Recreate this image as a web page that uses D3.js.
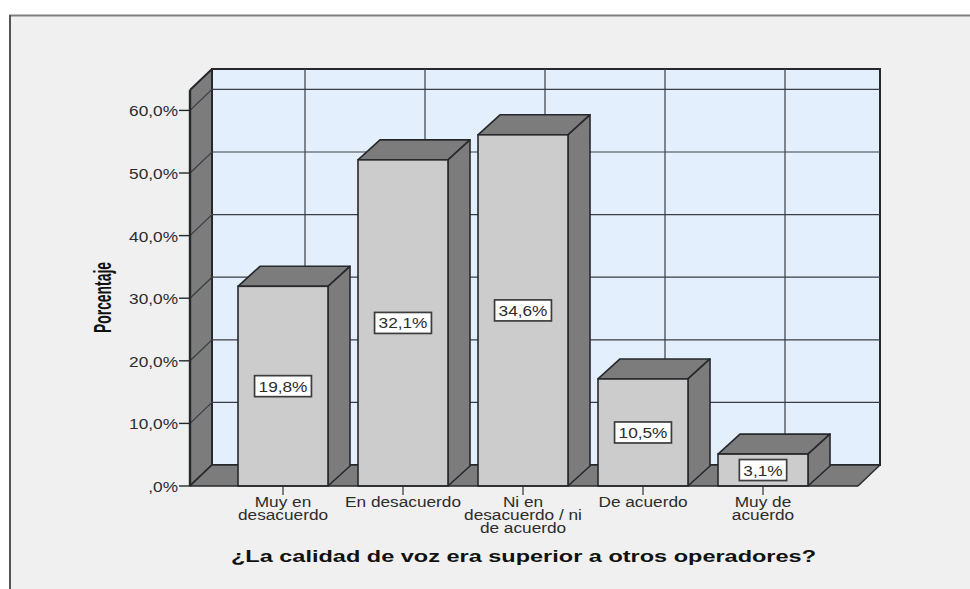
<!DOCTYPE html>
<html>
<head>
<meta charset="utf-8">
<script src="https://cdn.jsdelivr.net/npm/d3@7/dist/d3.min.js"></script>
<style>
html,body{margin:0;padding:0;background:#fff}
svg{display:block}
text{font-family:"Liberation Sans",Arial,sans-serif;fill:#2c2c2c}
</style>
</head>
<body>
<svg id="chart" width="970" height="589"></svg>
<script>
const categories = [["Muy en","desacuerdo"],["En desacuerdo"],["Ni en","desacuerdo / ni","de acuerdo"],["De acuerdo"],["Muy de","acuerdo"]];
const barHeights = [31.9, 52.1, 56.1, 17.1, 5.1];
const barLabels = ["19,8%","32,1%","34,6%","10,5%","3,1%"];
const yTicks = [0,10,20,30,40,50,60];
const yTickLabels = [",0%","10,0%","20,0%","30,0%","40,0%","50,0%","60,0%"];
const yAxisTitle = "Porcentaje";
const xAxisTitle = "¿La calidad de voz era superior a otros operadores?";

const svg = d3.select("#chart");
const C = {panel:"#f0f0f0",wall:"#e3effc",front:"#cccccc",side:"#7c7c7c",line:"#26282b",grid:"#3a3e44"};
const stretch = 1.25;
const floorDx = 22, floorDy = 21, barDx = 22, barDy = 20, barW = 90;
const y = d3.scaleLinear().domain([0,63.26]).range([486,90]);
const x = d3.scalePoint().domain(d3.range(categories.length)).range([283,763]);
const left = 190, right = 858;
const path = d3.line();

// panel
svg.append("rect").attr("x",9).attr("y",15).attr("width",961).attr("height",574).attr("fill",C.panel);
svg.append("line").attr("x1",9).attr("x2",970).attr("y1",15.5).attr("y2",15.5).attr("stroke","#7f7f7f").attr("stroke-width",2);
svg.append("line").attr("x1",10).attr("x2",10).attr("y1",15).attr("y2",589).attr("stroke","#555").attr("stroke-width",2);

// back wall
const top0 = y.range()[1];
svg.append("rect").attr("x",left+floorDx).attr("y",top0-floorDy).attr("width",right-left).attr("height",y(0)-top0)
  .attr("fill",C.wall).attr("stroke",C.line).attr("stroke-width",2);
// left wall
svg.append("path").attr("d",path([[left,y(0)],[left+floorDx,y(0)-floorDy],[left+floorDx,top0-floorDy],[left,top0]]))
  .attr("fill",C.side).attr("stroke",C.line).attr("stroke-width",2).attr("stroke-linejoin","round");

// vertical grid on back wall
svg.append("g").selectAll("line").data(x.domain()).join("line")
  .attr("x1",d=>x(d)+floorDx).attr("x2",d=>x(d)+floorDx)
  .attr("y1",top0-floorDy).attr("y2",y(0)-floorDy)
  .attr("stroke",C.grid).attr("stroke-width",1.6).attr("opacity",.75);
// horizontal grid on back wall & left wall
svg.append("g").selectAll("path").data(yTicks.slice(1)).join("path")
  .attr("d",d=>path([[left,y(d)],[left+floorDx,y(d)-floorDy],[right+floorDx,y(d)-floorDy]]))
  .attr("fill","none").attr("stroke",C.grid).attr("stroke-width",1.2);
// floor
svg.append("path").attr("d",path([[left,y(0)],[left+floorDx,y(0)-floorDy],[right+floorDx,y(0)-floorDy],[right,y(0)]]))
  .attr("fill",C.side).attr("stroke",C.line).attr("stroke-width",1.4).attr("stroke-linejoin","round");

// bars
const bars = svg.append("g").selectAll("g").data(barHeights).join("g");
bars.append("path").attr("d",(d,i)=>{const l=x(i)-barW/2,r=l+barW,t=y(d);
    return path([[l,t],[l+barDx,t-barDy],[r+barDx,t-barDy],[r,t]])+"Z";})
  .attr("fill",C.side).attr("stroke",C.line).attr("stroke-width",1.6).attr("stroke-linejoin","round");
bars.append("path").attr("d",(d,i)=>{const r=x(i)+barW/2,t=y(d),b=y(0);
    return path([[r,t],[r+barDx,t-barDy],[r+barDx,b-barDy],[r,b]])+"Z";})
  .attr("fill",C.side).attr("stroke",C.line).attr("stroke-width",1.6).attr("stroke-linejoin","round");
bars.append("rect").attr("x",(d,i)=>x(i)-barW/2).attr("y",d=>y(d)).attr("width",barW).attr("height",d=>y(0)-y(d))
  .attr("fill",C.front).attr("stroke",C.line).attr("stroke-width",1.6);

// y axis line + ticks
svg.append("line").attr("x1",left).attr("x2",left).attr("y1",top0).attr("y2",y(0)).attr("stroke",C.line).attr("stroke-width",2.4);
svg.append("line").attr("x1",left).attr("x2",right).attr("y1",y(0)).attr("y2",y(0)).attr("stroke",C.line).attr("stroke-width",1.6);
svg.append("g").selectAll("line").data(yTicks).join("line")
  .attr("x1",179).attr("x2",left).attr("y1",d=>y(d)).attr("y2",d=>y(d)).attr("stroke",C.line).attr("stroke-width",1.4);
svg.append("g").selectAll("text").data(yTicks).join("text")
  .attr("transform",d=>`translate(178,${y(d)+6}) scale(${stretch},1)`)
  .attr("text-anchor","end").attr("font-size",13.8).text((d,i)=>yTickLabels[i]);

// x ticks
svg.append("g").selectAll("line").data(x.domain()).join("line")
  .attr("x1",d=>x(d)).attr("x2",d=>x(d)).attr("y1",y(0)).attr("y2",y(0)+9).attr("stroke",C.line).attr("stroke-width",1.4).attr("opacity",.8);
// category labels
svg.append("g").selectAll("g").data(categories).join("g")
  .attr("transform",(d,i)=>`translate(${x(i)},507) scale(${stretch},1)`)
  .each(function(lines){
    d3.select(this).selectAll("text").data(lines).join("text")
      .attr("y",(d,i)=>i*13.2).attr("text-anchor","middle").attr("font-size",13.8).text(d=>d);
  });

// value labels
const tags = svg.append("g").selectAll("g").data(barLabels).join("g")
  .attr("transform",(d,i)=>`translate(${x(i)},${(y(barHeights[i])+y(0))/2})`);
tags.append("text").attr("transform",`translate(0,5.5) scale(${stretch},1)`).attr("text-anchor","middle").attr("font-size",13.8).text(d=>d);
tags.each(function(){
  const g=d3.select(this), w=g.select("text").node().getComputedTextLength()*stretch+8;
  g.insert("rect","text").attr("x",-w/2).attr("y",-10.5).attr("width",w).attr("height",21)
   .attr("fill","#fff").attr("stroke","#3c3c3c").attr("stroke-width",1.7);
});

// titles
svg.append("text").attr("transform","translate(523.5,561.5)").attr("text-anchor","middle").attr("font-size",17).attr("font-weight","bold")
  .attr("textLength",585).attr("lengthAdjust","spacingAndGlyphs").style("fill","#111").text(xAxisTitle);
svg.append("text").attr("transform","translate(111,297.5) rotate(-90)").attr("text-anchor","middle").attr("font-size",23).attr("font-weight","bold")
  .attr("textLength",71).attr("lengthAdjust","spacingAndGlyphs").style("fill","#111").text(yAxisTitle);
</script>
</body>
</html>
